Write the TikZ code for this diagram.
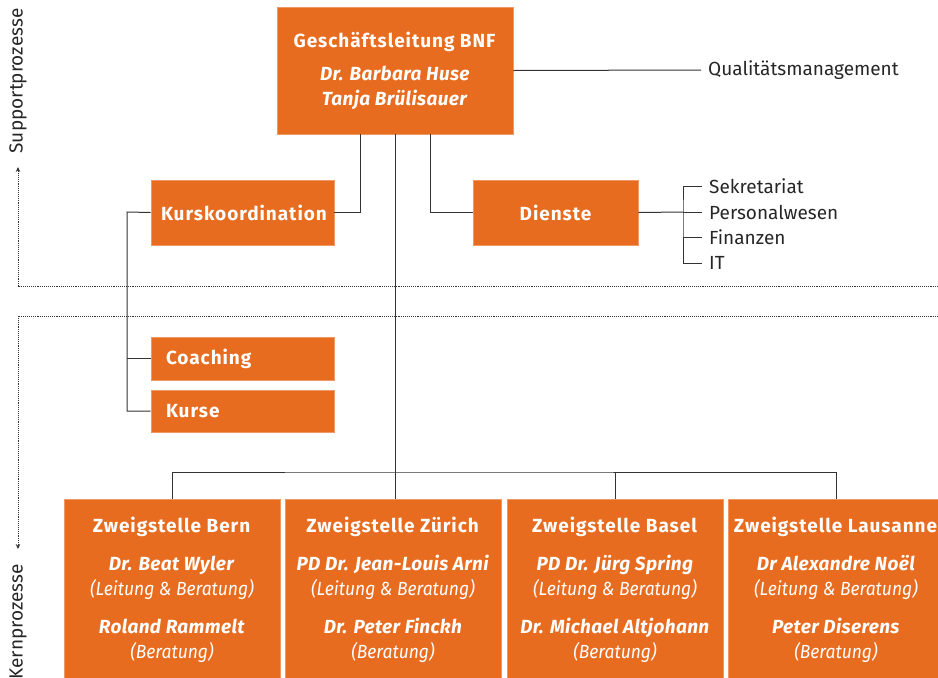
\documentclass[tikz,border=0pt]{standalone}
\usepackage{fontspec}
\setmainfont{Fira Sans}[BoldFeatures={LetterSpace=5}, BoldItalicFeatures={LetterSpace=2}, ItalicFeatures={FakeStretch=0.92}]
\usepackage{xcolor}
\usetikzlibrary{arrows.meta,positioning,calc}
\definecolor{bnfOrange}{HTML}{E86C20}
\definecolor{bnfLine}{HTML}{333333}
\definecolor{bnfText}{HTML}{262626}
\newcommand{\zweig}[3]{\textbf{#1}\\[13pt]\textbf{\itshape #2}\\\textit{(Leitung \& Beratung)}\\[13pt]\textbf{\itshape #3}\\\textit{(Beratung)}}

\begin{document}
\begin{tikzpicture}[x=1pt, y=-1pt, font=\fontsize{19}{25}\selectfont,
  unit/.style={fill=bnfOrange, draw=bnfOrange!70!white, line width=0.6pt, text=white, inner sep=0pt},
  leftunit/.style={unit, align=left, inner xsep=#1, text width=183pt-2*#1, font=\fontsize{19}{25}\selectfont\bfseries},
  branch/.style={unit, minimum width=216pt, align=center},
  listitem/.style={anchor=west, inner xsep=7pt, inner ysep=0pt, text=bnfText},
  conn/.style={draw=bnfLine, line width=1pt},
  zone/.style={draw=bnfLine, densely dotted, line width=0.9pt}]
\useasboundingbox (0,0) rectangle (938,678);
% Geschaeftsleitung
\node[unit, minimum width=236pt, minimum height=127pt, align=center] (gl) at (395,70.5)
  {\textbf{Geschäftsleitung BNF}\\[8pt]\textbf{\itshape Dr. Barbara Huse}\\\textbf{\itshape Tanja Brülisauer}};
\node[listitem] (qm) at (701,70) {Qualitätsmanagement};
% Supportprozesse
\node[leftunit=10pt, minimum height=65pt] (kk) at (242.5,212.5) {Kurskoordination};
\node[unit, minimum width=165pt, minimum height=65pt, font=\fontsize{19}{25}\selectfont\bfseries] (dienste) at (555.5,212.5) {Dienste};
\node[listitem] (sek) at (702,186) {Sekretariat};
\node[listitem] (pers) at (702,212) {Personalwesen};
\node[listitem] (fin) at (702,237.5) {Finanzen};
\node[listitem] (it) at (702,263) {IT};
% Kernprozesse
\node[leftunit=15pt, minimum height=43pt] (coaching) at (242.5,358.5) {Coaching};
\node[leftunit=15pt, minimum height=42pt] (kurse) at (242.5,411) {Kurse};
\node[branch, minimum height=182pt] (bern) at (172,590) {\zweig{Zweigstelle Bern}{Dr. Beat Wyler}{Roland Rammelt}};
\node[branch, minimum height=182pt] (zuerich) at (393,590) {\zweig{Zweigstelle Zürich}{PD Dr. Jean-Louis Arni}{Dr. Peter Finckh}};
\node[branch, minimum height=182pt] (basel) at (615,590) {\zweig{Zweigstelle Basel}{PD Dr. Jürg Spring}{Dr. Michael Altjohann}};
\node[branch, minimum height=182pt] (lausanne) at (836,590) {\zweig{Zweigstelle Lausanne}{Dr Alexandre Noël}{Peter Diserens}};
% connectors
\coordinate (bus) at (395,472);
\coordinate (dbrk) at (683,212);
\coordinate (kbrk) at (127,212);
\draw[conn] (gl.east) -- (qm.west);
\draw[conn] (kk.east) -| ([xshift=-35pt]gl.south);
\draw[conn] (dienste.west) -| ([xshift=35pt]gl.south);
\draw[conn] (gl.south) -- (bus);
\draw[conn] (bern.north) |- (bus) -| (lausanne.north);
\draw[conn] (bus) -- (bus |- zuerich.north);
\draw[conn] (basel.north) -- (basel.north |- bus);
\draw[conn] (dienste.east) -- (dbrk);
\draw[conn] (sek.west) -| (dbrk) |- (it.west);
\draw[conn] (pers.west) -- (dbrk);
\draw[conn] (fin.west) -- (fin.west -| dbrk);
\draw[conn] (kk.west) -- (kbrk) |- (kurse.west);
\draw[conn] (coaching.west) -- (coaching.west -| kbrk);
% Prozessebenen
\coordinate (sup) at (18,286);
\coordinate (kern) at (18,316);
\draw[zone] (938,286) -- (sup);
\draw[zone, -{Stealth[length=5pt,width=4.5pt]}] (sup) -- (18,167);
\draw[zone] (938,316) -- (kern);
\draw[zone, -{Stealth[length=5pt,width=4.5pt]}] (kern) -- (18,549);
\node[rotate=90, text=bnfText, inner sep=0pt] (suplabel) at (18,81) {Supportprozesse};
\node[rotate=90, text=bnfText, inner sep=0pt, anchor=east] (kernlabel) at (18,564) {Kernprozesse};
\end{tikzpicture}
\end{document}
